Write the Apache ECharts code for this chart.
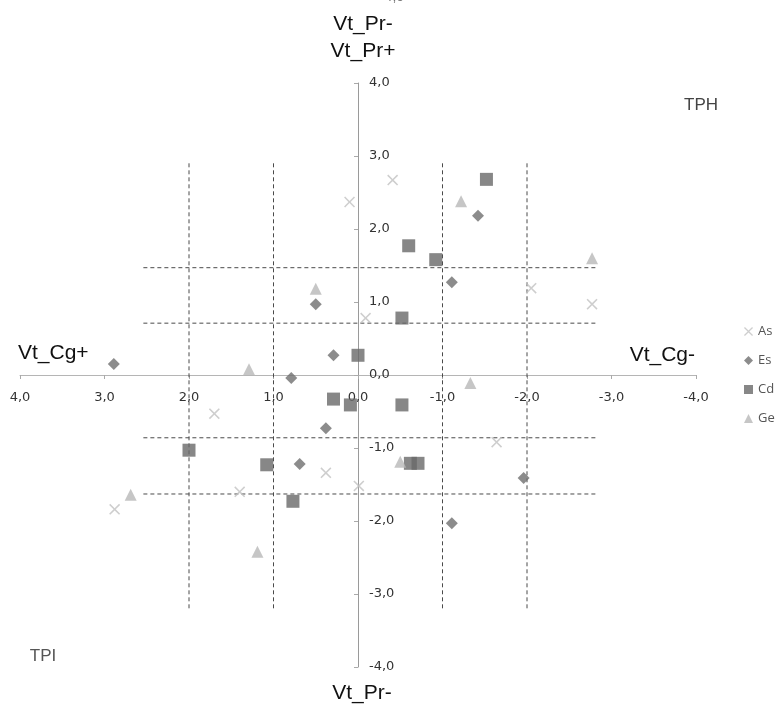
<!DOCTYPE html>
<html>
<head>
<meta charset="utf-8">
<script src="https://cdn.jsdelivr.net/npm/echarts@6/dist/echarts.min.js"></script>
<style>
html,body{margin:0;padding:0;background:#fff;}
#chart{width:778px;height:705px;}
</style>
</head>
<body>
<div id="chart"></div>
<script>
// ---- data (x = Vt_Cg axis, y = Vt_Pr axis) ----
const seriesNames = ['As', 'Es', 'Cd', 'Ge'];
const asPoints = [[-0.41, 2.67], [0.10, 2.37], [-2.05, 1.19], [-2.77, 0.97], [-0.09, 0.78],
  [1.70, -0.53], [0.38, -1.34], [-0.01, -1.52], [1.40, -1.60], [2.88, -1.84], [-1.64, -0.92]];
const esPoints = [[-1.42, 2.18], [-1.11, 1.27], [0.50, 0.97], [0.29, 0.27], [2.89, 0.15],
  [0.79, -0.04], [0.38, -0.73], [0.69, -1.22], [-1.96, -1.41], [-1.11, -2.03]];
const cdPoints = [[-1.52, 2.68], [-0.60, 1.77], [-0.92, 1.58], [-0.52, 0.78], [0.00, 0.27],
  [0.29, -0.33], [0.09, -0.41], [-0.52, -0.41], [2.00, -1.03], [1.08, -1.23], [0.77, -1.73],
  [-0.62, -1.21], [-0.71, -1.21]];
const gePoints = [[-1.22, 2.38], [-2.77, 1.60], [0.50, 1.18], [1.29, 0.08], [-1.33, -0.11],
  [2.69, -1.64], [1.19, -2.42], [-0.50, -1.19]];
// dashed reference lines
const hLineY = [1.47, 0.71, -0.86, -1.63];
const hLineXRange = [2.54, -2.82];
const vLineX = [2, 1, -1, -2];
const vLineYRange = [2.9, -3.2];
// axis ticks
const axisMin = -4, axisMax = 4, axisStep = 1;

const fmt = v => v.toFixed(1).replace('.', ',');

const W = 778, H = 705;
const gridL = 20, gridR = 82, gridT = 83, gridB = 38;
const plotW = W - gridL - gridR, plotH = H - gridT - gridB;
// axes cross at the zero of the other axis
const xAxisOffset = -(plotH * (0 - axisMin) / (axisMax - axisMin));
const yAxisOffset = -(plotW * (axisMax - 0) / (axisMax - axisMin));

const chart = echarts.init(document.getElementById('chart'), null, {renderer: 'canvas'});

const refSeries = [];
hLineY.forEach(y => refSeries.push({
  type: 'line', silent: true, symbol: 'none', z: 1,
  data: [[hLineXRange[0], y], [hLineXRange[1], y]],
  lineStyle: {color: '#4a4a4a', width: 1, type: [4, 3]}
}));
vLineX.forEach(x => refSeries.push({
  type: 'line', silent: true, symbol: 'none', z: 1,
  data: [[x, vLineYRange[0]], [x, vLineYRange[1]]],
  lineStyle: {color: '#4a4a4a', width: 1, type: [4, 3]}
}));

const crossPath = 'path://M0,1 L1,0 L5,4 L9,0 L10,1 L6,5 L10,9 L9,10 L5,6 L1,10 L0,9 L4,5 Z';

const txt = (x, y, text, size, color, align) => ({
  type: 'text', x: x, y: y,
  style: {text: text, fontSize: size, fontFamily: 'Liberation Sans, Arial, sans-serif',
    fill: color, textAlign: align || 'center', textVerticalAlign: 'middle'}
});

chart.setOption({
  animation: false,
  backgroundColor: '#fff',
  grid: {left: gridL, right: gridR, top: gridT, bottom: gridB},
  xAxis: {
    type: 'value', min: axisMin, max: axisMax, interval: axisStep, inverse: true,
    position: 'bottom', offset: xAxisOffset,
    axisLine: {onZero: false, lineStyle: {color: '#b5b5b5', width: 1}},
    axisTick: {show: true, length: 4, lineStyle: {color: '#aaa'}},
    axisLabel: {formatter: fmt, margin: 16, color: '#333', fontSize: 13,
      fontFamily: 'DejaVu Sans', showMinLabel: true, showMaxLabel: true},
    splitLine: {show: false}
  },
  yAxis: {
    type: 'value', min: axisMin, max: axisMax, interval: axisStep,
    position: 'left', offset: yAxisOffset,
    axisLine: {onZero: false, lineStyle: {color: '#9a9a9a', width: 1}},
    axisTick: {show: true, length: 4, lineStyle: {color: '#aaa'}},
    axisLabel: {inside: true, formatter: fmt, margin: 11, color: '#333', fontSize: 13,
      fontFamily: 'DejaVu Sans', showMinLabel: true, showMaxLabel: true},
    splitLine: {show: false}
  },
  legend: {
    orient: 'vertical', left: 739, top: 320, itemGap: 16, itemWidth: 9, itemHeight: 9,
    data: seriesNames,
    textStyle: {color: '#555', fontSize: 13, fontFamily: 'Open Sans'}
  },
  graphic: [
    txt(392, -3, '-4,0', 14, '#777'),
    txt(363, 24, 'Vt_Pr-', 21, '#111'),
    txt(363, 51, 'Vt_Pr+', 21, '#111'),
    txt(701, 105, 'TPH', 17, '#444'),
    txt(18, 353, 'Vt_Cg+', 21, '#111', 'left'),
    txt(695, 355, 'Vt_Cg-', 21, '#111', 'right'),
    txt(43, 656, 'TPI', 17, '#555'),
    txt(362, 693, 'Vt_Pr-', 21, '#111')
  ],
  series: refSeries.concat([
    {name: 'As', type: 'scatter', symbol: crossPath, symbolSize: 11, z: 5,
      itemStyle: {color: '#c2c2c2'}, data: asPoints},
    {name: 'Es', type: 'scatter', symbol: 'diamond', symbolSize: 12, z: 5,
      itemStyle: {color: '#6f6f6f'}, data: esPoints},
    {name: 'Cd', type: 'scatter', symbol: 'rect', symbolSize: 13, z: 5,
      itemStyle: {color: '#696969'}, data: cdPoints},
    {name: 'Ge', type: 'scatter', symbol: 'triangle', symbolSize: 12, z: 5,
      itemStyle: {color: '#b8b8b8'}, data: gePoints}
  ])
});
</script>
</body>
</html>
